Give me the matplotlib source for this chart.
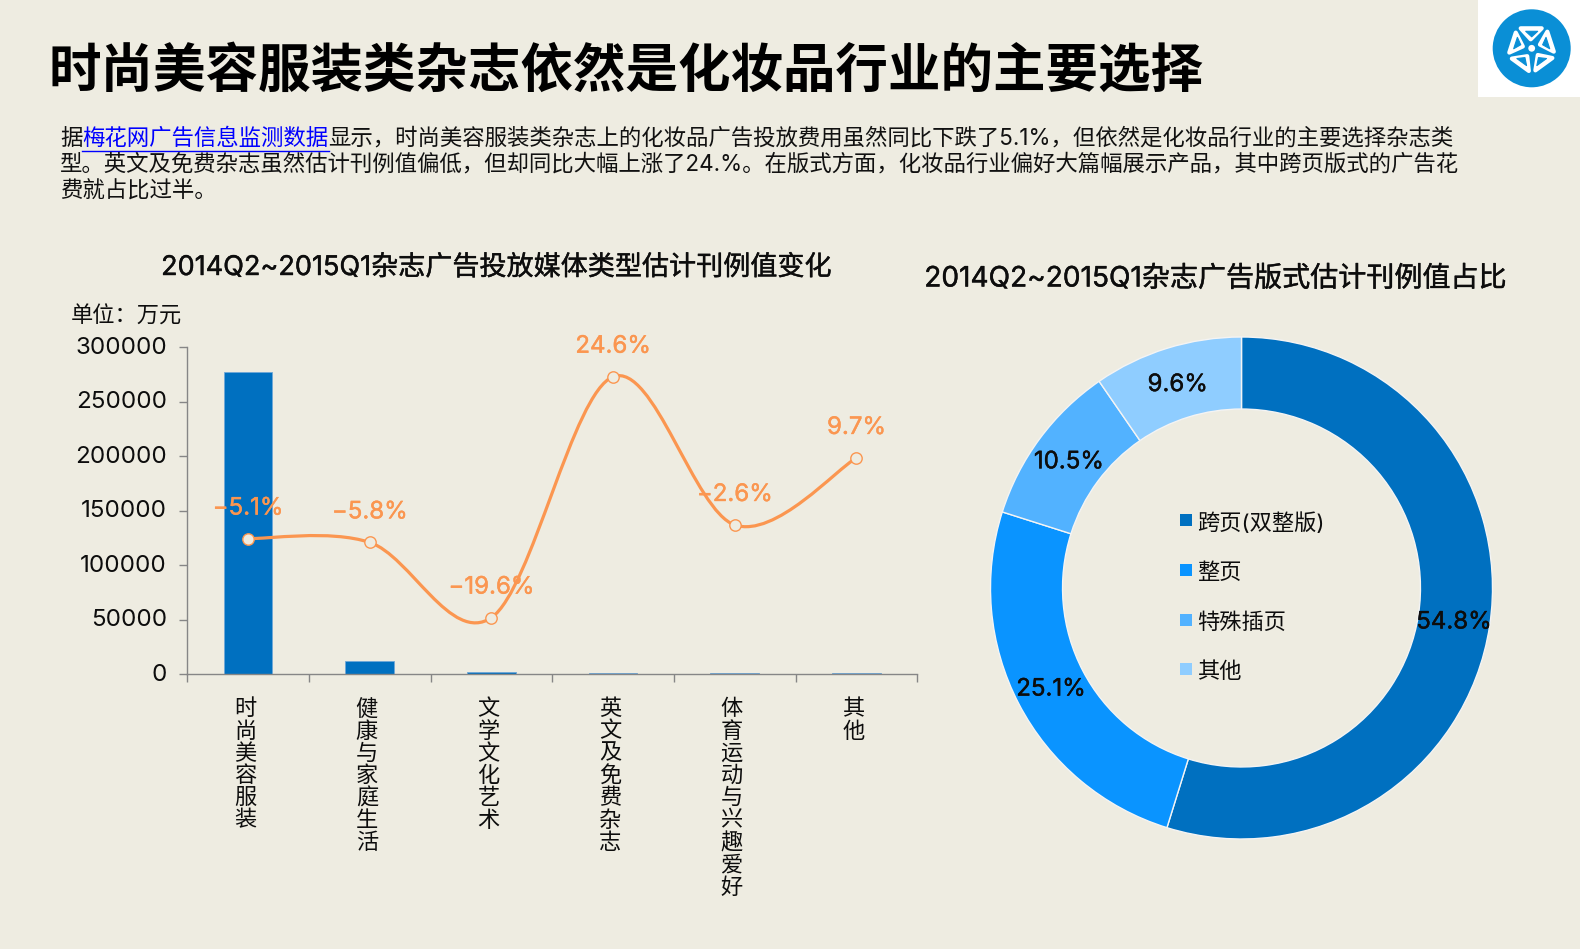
import numpy as np
import matplotlib
matplotlib.use('Agg')
import matplotlib.pyplot as plt
import matplotlib.patches as mpatches
import matplotlib.patheffects as pe
import matplotlib.transforms as mtrans
from matplotlib.path import Path


categories = ['时尚美容服装', '健康与家庭生活', '文学文化艺术', '英文及免费杂志', '体育运动与兴趣爱好', '其他']
spend_values = [277000, 12200, 2000, 1200, 900, 800]
change_values = [-5.1, -5.8, -19.6, 24.6, -2.6, 9.7]
y_ticks = [0, 50000, 100000, 150000, 200000, 250000, 300000]

format_names = ['跨页(双整版)', '整页', '特殊插页', '其他']
format_shares = [54.8, 25.1, 10.5, 9.6]
format_colors = ['#0070c0', '#0a94ff', '#52b2ff', '#8fcdff']

title_text = '时尚美容服装类杂志依然是化妆品行业的主要选择'
left_title = '2014Q2~2015Q1杂志广告投放媒体类型估计刊例值变化'
right_title = '2014Q2~2015Q1杂志广告版式估计刊例值占比'
body_lines = [
    [('据', '#111111'), ('梅花网广告信息监测数据', '#0000ff'),
     ('显示，时尚美容服装类杂志上的化妆品广告投放费用虽然同比下跌了5.1%，但依然是化妆品行业的主要选择杂志类', '#111111')],
    [('型。英文及免费杂志虽然估计刊例值偏低，但却同比大幅上涨了24.%。在版式方面，化妆品行业偏好大篇幅展示产品，其中跨页版式的广告花', '#111111')],
    [('费就占比过半。', '#111111')],
]

BG = '#eeece1'
ORANGE = '#fb9650'
GREY = '#868686'
INK = '#0d0d0d'
W, H = 1580, 949

plt.rcParams['font.family'] = ['Inter', 'Noto Sans CJK SC', 'DejaVu Sans']


def px_axes(fig, left, top, right, bottom):
    'Make axes from pixel edges measured on the reference.'
    return fig.add_axes([left / W, 1 - bottom / H, (right - left) / W, (bottom - top) / H])


def heavier(color, width=0.3):
    'Thin outline, the reference text renders a little heavier than the regular weight.'
    return [pe.withStroke(linewidth=width, foreground=color)]


def smooth_path(xs, ys):
    'Spreadsheet style smooth line through the points, as cubic segments.'
    xs = np.asarray(xs, float)
    ys = np.asarray(ys, float)
    n = len(xs)
    verts = [(xs[0], ys[0])]
    codes = [Path.MOVETO]
    for i in range(n - 1):
        a, b = max(i - 1, 0), min(i + 2, n - 1)
        verts.append((xs[i] + (xs[i + 1] - xs[a]) / 6, ys[i] + (ys[i + 1] - ys[a]) / 6))
        verts.append((xs[i + 1] - (xs[b] - xs[i]) / 6, ys[i + 1] - (ys[b] - ys[i]) / 6))
        verts.append((xs[i + 1], ys[i + 1]))
        codes += [Path.CURVE4] * 3
    return Path(verts, codes)


def draw_bar_line(fig):
    ax = px_axes(fig, 187.2, 347.3, 917.3, 674.3)
    ax.patch.set_alpha(0)
    x = np.arange(len(categories))
    ax.bar(x, spend_values, width=0.4, color='#0070c0', edgecolor='#6fa8d8', linewidth=0.6)
    ax.set_xlim(-0.5, len(categories) - 0.5)
    ax.set_ylim(0, 300000)
    ax.set_yticks(y_ticks)
    ax.set_xticks(np.arange(len(categories) + 1) - 0.5)
    ax.set_xticklabels([])
    ax.tick_params(axis='both', color=GREY, length=5.6, width=1)
    ax.tick_params(axis='y', labelsize=17.4, labelcolor=INK, pad=9)
    # Tick labels sit about 2px above their ticks in the reference
    lift = mtrans.ScaledTranslation(0, 2 / 100, fig.dpi_scale_trans)
    for label in ax.get_yticklabels():
        label.set_transform(label.get_transform() + lift)
    for name in ['top', 'right']:
        ax.spines[name].set_visible(False)
    for name in ['left', 'bottom']:
        ax.spines[name].set_color(GREY)
        ax.spines[name].set_linewidth(1)

    line_ax = ax.twinx()
    line_ax.set_ylim(-30, 30)
    line_ax.axis('off')
    line_ax.add_patch(mpatches.PathPatch(smooth_path(x, change_values), fill=False,
                                         edgecolor=ORANGE, linewidth=2.3, capstyle='round'))
    line_ax.plot(x, change_values, linestyle='none', marker='o', markersize=8.2,
                 markerfacecolor=BG, markeredgecolor=ORANGE, markeredgewidth=1)
    for xi, value in zip(x, change_values):
        label = f'{value:.1f}%'.replace('-', '\u2212')
        line_ax.annotate(label, (xi, value), xytext=(0, 21.6), textcoords='offset points',
                         ha='center', va='center', fontsize=17.3, color=ORANGE,
                         path_effects=heavier(ORANGE))
    return ax


def draw_donut(fig):
    cx, cy, r = 1241.5, 588, 251
    pad = 1.02
    ax = px_axes(fig, cx - r * pad, cy - r * pad, cx + r * pad, cy + r * pad)
    ax.patch.set_alpha(0)
    wedges, _ = ax.pie(format_shares, colors=format_colors, startangle=90, counterclock=False,
                       radius=1, wedgeprops=dict(width=0.287, edgecolor='#f4f4f4', linewidth=1))
    ax.set_xlim(-pad, pad)
    ax.set_ylim(-pad, pad)
    for wedge, share in zip(wedges, format_shares):
        angle = np.deg2rad((wedge.theta1 + wedge.theta2) / 2)
        ax.text(0.856 * np.cos(angle), 0.856 * np.sin(angle) - 0.009, f'{share:.1f}%',
                ha='center', va='center', fontsize=17.3, color=INK, path_effects=heavier(INK))


def draw_logo(overlay):
    overlay.add_patch(mpatches.Rectangle((1478, 0), 102, 97, facecolor='white', edgecolor='none'))
    cx, cy = 1531.7, 48.3
    blue = '#0a8fd6'
    overlay.add_patch(mpatches.Circle((cx, cy), 39, facecolor=blue, edgecolor='none'))
    overlay.add_patch(mpatches.Circle((cx, cy), 3.4, facecolor='white', edgecolor='none'))
    outer = np.array([[-11, -20], [10, -20], [-1, -9]], float)
    inner = np.array([[-6, -17], [6, -17], [0, -11.5]], float)
    for k in range(5):
        t = np.deg2rad(72 * k)
        rot = np.array([[np.cos(t), -np.sin(t)], [np.sin(t), np.cos(t)]])
        overlay.add_patch(mpatches.Polygon(outer @ rot.T + [cx, cy], facecolor='white', edgecolor='white',
                                           linewidth=3, joinstyle='round'))
        overlay.add_patch(mpatches.Polygon(inner @ rot.T + [cx, cy], facecolor=blue, edgecolor=blue,
                                           linewidth=0.8, joinstyle='round'))


def draw_body(fig, overlay):
    renderer = fig.canvas.get_renderer()
    baselines = [145, 170.5, 198]
    for pieces, base in zip(body_lines, baselines):
        x_pos = 60
        for text, color in pieces:
            item = overlay.text(x_pos, base, text, color=color, fontsize=16.15, ha='left', va='baseline')
            box = item.get_window_extent(renderer)
            if color == '#0000ff':
                overlay.plot([x_pos, x_pos + box.width], [150.5, 150.5], color=color, linewidth=1)
            x_pos += box.width


def main():
    fig = plt.figure(figsize=(W / 100, H / 100), dpi=100, facecolor=BG)
    ax = draw_bar_line(fig)
    draw_donut(fig)

    overlay = fig.add_axes([0, 0, 1, 1], zorder=10)
    overlay.set_xlim(0, W)
    overlay.set_ylim(H, 0)
    overlay.axis('off')

    overlay.text(49, 87, title_text, fontsize=37.8, fontweight='bold', color='#000000', ha='left', va='baseline')
    draw_body(fig, overlay)
    overlay.text(496.5, 268, left_title, fontsize=19.5, color=INK, ha='center', va='center',
                 path_effects=heavier(INK))
    overlay.text(1215, 279, right_title, fontsize=20.2, color=INK, ha='center', va='center',
                 path_effects=heavier(INK))
    overlay.text(70.5, 316.5, '单位：万元', fontsize=16, color=INK, ha='left', va='center')
    draw_logo(overlay)

    # Category labels run top to bottom, one glyph per row
    for i, name in enumerate(categories):
        x_pos = 247.2 + i * 121.6
        for j, ch in enumerate(name):
            overlay.text(x_pos - 2, 709 + j * 22.3, ch, fontsize=16, color=INK, ha='center', va='center')

    # Legend drawn by hand to keep the wide row pitch
    for name, color, y_pos in zip(format_names, format_colors, [520, 570, 620, 669]):
        overlay.add_patch(mpatches.Rectangle((1180, y_pos - 6), 12, 12, facecolor=color, edgecolor='none'))
        overlay.text(1197, y_pos + 3, name, fontsize=16, color=INK, ha='left', va='center')

    fig.savefig('out.png', dpi=100, facecolor=BG)


if __name__ == '__main__':
    main()
